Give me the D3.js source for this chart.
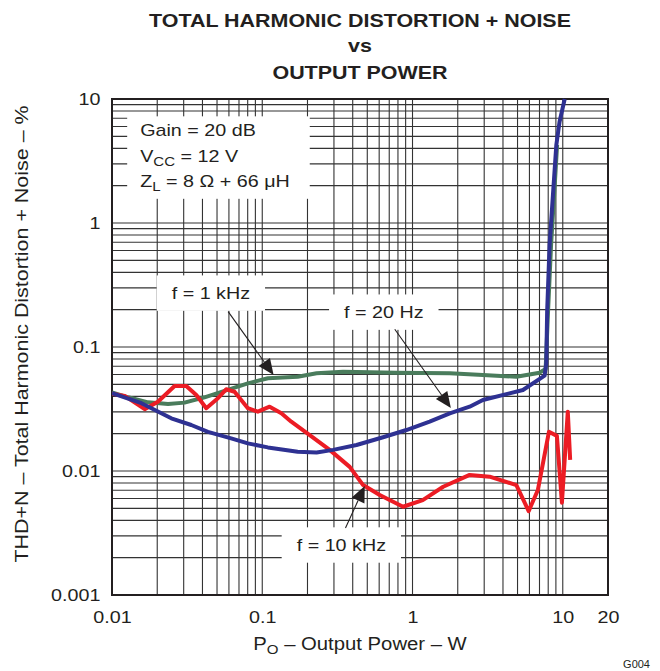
<!DOCTYPE html>
<html><head><meta charset="utf-8">
<script src="https://cdn.jsdelivr.net/npm/d3@7"></script>
<style>
body{margin:0;background:#fff}
text{font-family:"Liberation Sans",Arial,Helvetica,sans-serif;fill:#231f20}
</style>
</head><body>
<svg id="c" width="660" height="671"></svg>
<script>
// ---------- data ----------
const titleLines = ["TOTAL HARMONIC DISTORTION + NOISE", "vs", "OUTPUT POWER"];
const xTickValues = [0.01, 0.1, 1, 10, 20];
const xTickLabels = ["0.01", "0.1", "1", "10", "20"];
const yTickValues = [0.001, 0.01, 0.1, 1, 10];
const yTickLabels = ["0.001", "0.01", "0.1", "1", "10"];

const power20Hz = [0.01, 0.0157, 0.0248, 0.0337, 0.0435, 0.0621, 0.0802, 0.109, 0.172, 0.23, 0.296, 0.424, 0.637, 0.91, 1.3, 1.77, 2.4, 2.94, 5.43, 7.57, 7.77, 7.87, 8.17, 8.6, 9.06, 9.52, 10.3];
const thd20Hz   = [0.0424, 0.0352, 0.0266, 0.0235, 0.0207, 0.01835, 0.0167, 0.0155, 0.0143, 0.0141, 0.0148, 0.0162, 0.0187, 0.0214, 0.025, 0.0292, 0.033, 0.0374, 0.045, 0.0587, 0.0743, 0.193, 0.665, 1.68, 4.26, 6.56, 10];

const power1kHz = [0.01, 0.0128, 0.0174, 0.0236, 0.0304, 0.0413, 0.0561, 0.0802, 0.109, 0.172, 0.23, 0.345, 0.78, 1.77, 2.94, 4.91, 7.01, 7.69, 7.98, 8.36, 8.76, 9.17];
const thd1kHz   = [0.043, 0.0393, 0.0358, 0.0347, 0.0356, 0.0393, 0.0442, 0.0509, 0.056, 0.0576, 0.0614, 0.0632, 0.0621, 0.0614, 0.0594, 0.0576, 0.0621, 0.0665, 0.193, 0.665, 1.68, 4.26];

const power10kHz = [0.01, 0.01215, 0.0165, 0.0202, 0.0261, 0.0312, 0.0364, 0.0424, 0.0507, 0.0575, 0.0654, 0.0802, 0.0935, 0.112, 0.134, 0.156, 0.207, 0.281, 0.382, 0.469, 0.605, 0.865, 1.17, 1.6, 2.4, 3.26, 4.91, 5.93, 6.83, 8.09, 9.14, 9.87, 10.8, 11.2];
const thd10kHz   = [0.042, 0.0403, 0.0315, 0.0362, 0.0485, 0.0485, 0.041, 0.0321, 0.0386, 0.0456, 0.0436, 0.0321, 0.0301, 0.033, 0.0292, 0.025, 0.0195, 0.0148, 0.0108, 0.0077, 0.0064, 0.00515, 0.00583, 0.00747, 0.0093, 0.009, 0.0077, 0.00475, 0.00703, 0.0207, 0.0192, 0.00555, 0.0301, 0.0123];

const curveNames  = ["f = 1 kHz", "f = 20 Hz", "f = 10 kHz"];
const labelX      = [0.0455, 0.644, 0.336];
const labelY      = [0.272, 0.191, 0.00253];
const arrowFromX  = [0.0593, 0.762, 0.358];
const arrowFromY  = [0.193, 0.139, 0.00347];
const arrowToX    = [0.119, 1.80, 0.481];
const arrowToY    = [0.0594, 0.0322, 0.00757];

const noteX = 0.0154, noteY = 5.62;

// ---------- setup ----------
const svg = d3.select("#c");
const W = 660, H = 671;
const m = {left:112, right:52, top:99, bottom:76};
const x = d3.scaleLog().domain([0.01, 20]).range([m.left, W - m.right]);
const y = d3.scaleLog().domain([0.001, 10]).range([H - m.bottom, m.top]);
const SX = 1.16; // horizontal stretch of the lettering
const ink = "#231f20";

// grid
const grid = svg.append("g");
grid.selectAll("line.v").data(x.ticks()).join("line")
  .attr("x1", d => x(d)).attr("x2", d => x(d))
  .attr("y1", y(10)).attr("y2", y(0.001))
  .attr("stroke", "#333").attr("stroke-width", 1.1);
grid.selectAll("line.h").data(y.ticks()).join("line")
  .attr("y1", d => y(d)).attr("y2", d => y(d))
  .attr("x1", x(0.01)).attr("x2", x(20))
  .attr("stroke", "#333").attr("stroke-width", 1.1);

// helper: stretched text group
function stretched(parent, px, py, rot) {
  return parent.append("g").attr("transform", `translate(${px},${py})` + (rot ? ` rotate(${rot})` : "") + ` scale(${SX},1)`);
}

// note box
const noteG = stretched(svg, x(noteX), y(noteY), 0);
const noteT = noteG.append("text").attr("font-size", 17).attr("dy", 6);
noteT.append("tspan").attr("x", 0).text("Gain = 20 dB");
const l2 = noteT.append("tspan").attr("x", 0).attr("dy", 26);
l2.append("tspan").text("V");
l2.append("tspan").attr("font-size", 13).attr("dy", 4).text("CC");
l2.append("tspan").attr("dy", -4).text(" = 12 V");
const l3 = noteT.append("tspan").attr("x", 0).attr("dy", 25);
l3.append("tspan").text("Z");
l3.append("tspan").attr("font-size", 13).attr("dy", 4).text("L");
l3.append("tspan").attr("dy", -4).text(" = 8 \u03A9 + 66 \u03BCH");
{
  const b = noteT.node().getBBox();
  noteG.insert("rect", "text")
    .attr("x", b.x - 13 / SX).attr("y", b.y - 4)
    .attr("width", b.width + 33 / SX).attr("height", b.height + 9)
    .attr("fill", "#fff");
}

// curve labels (boxes)
curveNames.forEach((name, i) => {
  const g = stretched(svg, x(labelX[i]), y(labelY[i]), 0);
  const t = g.append("text").attr("font-size", 17).attr("text-anchor", "middle").attr("dy", 6).text(name);
  const b = t.node().getBBox();
  g.insert("rect", "text")
    .attr("x", b.x - 15 / SX).attr("y", b.y - 8)
    .attr("width", b.width + 30 / SX).attr("height", b.height + 16)
    .attr("fill", "#fff");
});

// frame
svg.append("rect").attr("x", x(0.01)).attr("y", y(10))
  .attr("width", x(20) - x(0.01)).attr("height", y(0.001) - y(10))
  .attr("fill", "none").attr("stroke", ink).attr("stroke-width", 2);

// curves
const line = d3.line().x(d => x(d[0])).y(d => y(d[1]));
const series = [
  {p: power1kHz, v: thd1kHz, c: "#4a7c5c"},
  {p: power10kHz, v: thd10kHz, c: "#ec1c24"},
  {p: power20Hz, v: thd20Hz, c: "#2e3192"}
];
svg.append("clipPath").attr("id", "pc").append("rect")
  .attr("x", x(0.01)).attr("y", y(10) - 1).attr("width", x(20) - x(0.01)).attr("height", y(0.001) - y(10) + 1);
series.forEach(s => {
  svg.append("path").datum(d3.zip(s.p, s.v)).attr("d", line)
    .attr("fill", "none").attr("stroke", s.c).attr("stroke-width", 4)
    .attr("stroke-linejoin", "round").attr("stroke-linecap", "butt")
    .attr("clip-path", "url(#pc)");
});

// arrows
curveNames.forEach((name, i) => {
  const x0 = x(arrowFromX[i]), y0 = y(arrowFromY[i]);
  const x1 = x(arrowToX[i]), y1 = y(arrowToY[i]);
  const a = Math.atan2(y1 - y0, x1 - x0);
  const L = 16, hw = 7;
  const bx = x1 - L * Math.cos(a), by = y1 - L * Math.sin(a);
  svg.append("line").attr("x1", x0).attr("y1", y0).attr("x2", bx).attr("y2", by)
    .attr("stroke", ink).attr("stroke-width", 1.1);
  svg.append("path")
    .attr("d", `M${x1},${y1}L${bx + hw * Math.sin(a)},${by - hw * Math.cos(a)}L${bx - hw * Math.sin(a)},${by + hw * Math.cos(a)}Z`)
    .attr("fill", ink);
});

// axes
const xAxis = svg.append("g").attr("transform", `translate(0,${y(0.001)})`)
  .call(d3.axisBottom(x).tickValues(xTickValues).tickFormat((d, i) => xTickLabels[i]).tickSize(0).tickPadding(16));
const yAxis = svg.append("g").attr("transform", `translate(${x(0.01)},0)`)
  .call(d3.axisLeft(y).tickValues(yTickValues).tickFormat((d, i) => yTickLabels[i]).tickSize(0).tickPadding(10));
[xAxis, yAxis].forEach(a => {
  a.select(".domain").remove();
  a.selectAll("text").attr("font-size", 17).attr("font-family", null).attr("fill", ink)
    .attr("transform", `scale(${SX},1)`);
});
yAxis.selectAll("text").attr("dy", "0.35em");

// titles
titleLines.forEach((t, i) => {
  stretched(svg, (x(0.01) + x(20)) / 2, [27, 52, 79][i], 0)
    .append("text").attr("text-anchor", "middle").attr("font-size", 18.5).attr("font-weight", "bold").text(t);
});

// x title
{
  const g = stretched(svg, (x(0.01) + x(20)) / 2, 650, 0);
  const t = g.append("text").attr("text-anchor", "middle").attr("font-size", 17.5);
  t.append("tspan").text("P");
  t.append("tspan").attr("font-size", 13).attr("dy", 4).text("O");
  t.append("tspan").attr("dy", -4).text(" \u2013 Output Power \u2013 W");
}
// y title
stretched(svg, 28, 334, -90)
  .append("text").attr("text-anchor", "middle").attr("font-size", 18.5)
  .text("THD+N \u2013 Total Harmonic Distortion + Noise \u2013 %");

// figure id
svg.append("text").attr("x", 650).attr("y", 668).attr("text-anchor", "end").attr("font-size", 11).text("G004");
</script>
</body></html>
